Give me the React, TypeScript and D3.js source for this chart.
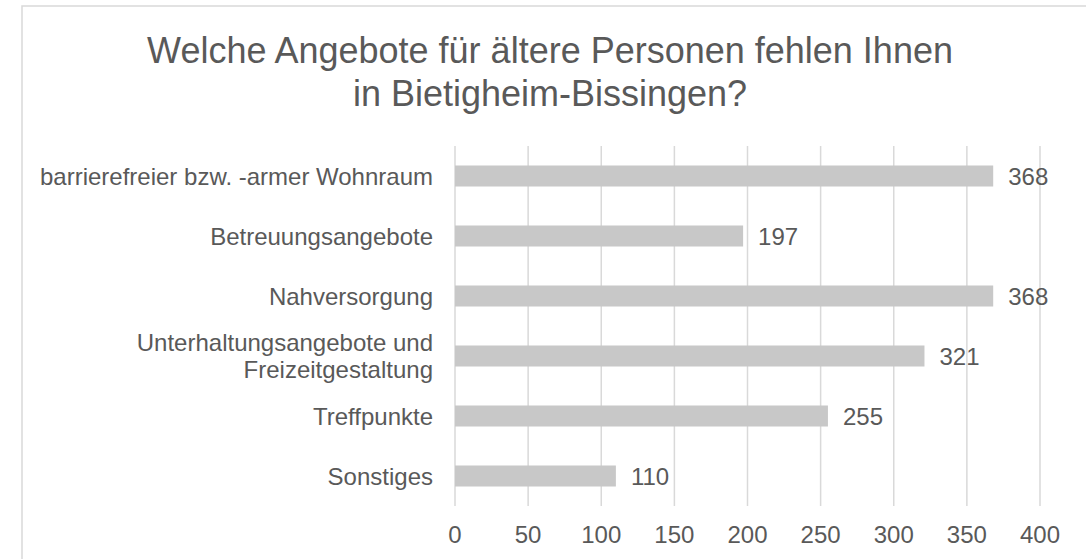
import React from "react";
import * as d3 from "d3";

const categories: string[][] = [
  ["barrierefreier bzw. -armer Wohnraum"],
  ["Betreuungsangebote"],
  ["Nahversorgung"],
  ["Unterhaltungsangebote und", "Freizeitgestaltung"],
  ["Treffpunkte"],
  ["Sonstiges"],
];
const values: number[] = [368, 197, 368, 321, 255, 110];
const xTicks: number[] = [0, 50, 100, 150, 200, 250, 300, 350, 400];
const titleLines: string[] = [
  "Welche Angebote für ältere Personen fehlen Ihnen",
  "in Bietigheim-Bissingen?",
];

const W = 1086;
const H = 559;
const FONT = "'Liberation Sans', Arial, sans-serif";
const TEXT = "#595959";

export default function App() {
  const plot = { left: 455, right: 1040, top: 146, bottom: 506 };
  const x = d3.scaleLinear().domain([0, 400]).range([plot.left, plot.right]);
  const y = d3
    .scaleBand<number>()
    .domain(d3.range(categories.length))
    .range([plot.top, plot.bottom])
    .paddingInner(0.65)
    .paddingOuter(0.325);

  return (
    <svg
      width={W}
      height={H}
      style={{ position: "absolute", left: 0, top: 0, background: "#fff" }}
      fontFamily={FONT}
    >
      <rect x={22} y={6} width={1100} height={600} fill="#fff" stroke="#d9d9d9" strokeWidth={1.5} />
      {titleLines.map((t, i) => (
        <text key={i} x={550} y={63 + i * 43} textAnchor="middle" fontSize={36} fill={TEXT}>
          {t}
        </text>
      ))}
      {xTicks.map((t) => (
        <g key={t}>
          <line x1={x(t)} x2={x(t)} y1={plot.top} y2={plot.bottom} stroke="#d9d9d9" strokeWidth={1.5} />
          <text x={x(t)} y={543} textAnchor="middle" fontSize={24} fill={TEXT}>
            {t}
          </text>
        </g>
      ))}
      {values.map((v, i) => {
        const by = y(i)!;
        const bh = y.bandwidth();
        const cy = by + bh / 2;
        const lines = categories[i];
        return (
          <g key={i}>
            <rect x={x(0)} y={by} width={x(v) - x(0)} height={bh} fill="#c8c8c8" />
            <text x={x(v) + 15} y={cy + 8.5} fontSize={24} fill={TEXT}>
              {v}
            </text>
            {lines.map((l, j) => (
              <text
                key={j}
                x={433}
                y={cy + 8.5 + (j - (lines.length - 1) / 2) * 27.6}
                textAnchor="end"
                fontSize={24}
                fill={TEXT}
              >
                {l}
              </text>
            ))}
          </g>
        );
      })}
    </svg>
  );
}
